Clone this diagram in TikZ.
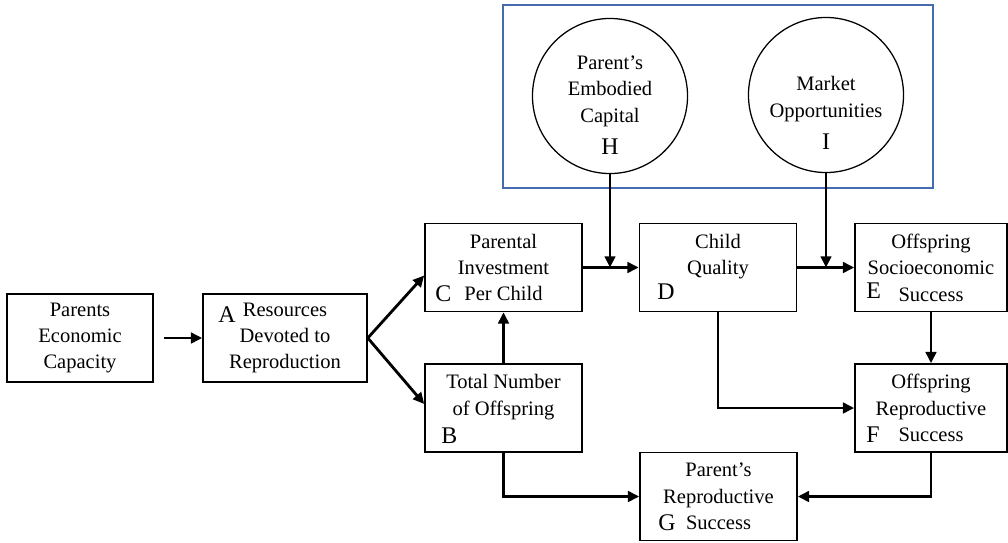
\documentclass[tikz,border=0pt]{standalone}
\usepackage{fontspec}
\setmainfont{Liberation Serif}
\usetikzlibrary{arrows.meta,calc}
\definecolor{frameblue}{RGB}{68,106,176}

\begin{document}
\begin{tikzpicture}[x=0.025cm,y=-0.025cm,
    box/.style={draw,line width=1.1pt,inner sep=0pt,minimum width=3.925cm,minimum height=2.2cm,
      align=center,font=\fontsize{14.6}{18.8}\selectfont},
    ring/.style={draw,circle,line width=0.9pt,minimum size=3.875cm,inner sep=0pt},
    txt/.style={align=center,inner sep=0pt,font=\fontsize{14.6}{18.8}\selectfont},
    tag/.style={anchor=base west,inner sep=0pt,font=\fontsize{17}{20}\selectfont},
    link/.style={line width=2pt,-{Triangle[length=8pt,width=7.5pt]}}]
    \useasboundingbox (0,0) rectangle (1008,542);
    % blue frame round the two circles
    \draw[frameblue,line width=0.9pt] (503,5) rectangle (933,188);
    \node[ring] (H) at (610,96) {};
    \node[ring] (I) at (826,95) {};
    \node[txt] (Ht) at (610,105) {Parent’s\\Embodied\\Capital\\[4pt]{\fontsize{17}{20}\selectfont H}};
    \node[txt] (It) at (826,113) {Market\\Opportunities\\[4pt]{\fontsize{17}{20}\selectfont I}};

    \node[box,minimum width=3.65cm] (P) at (80,338) {Parents\\Economic\\Capacity};
    \node[box,minimum width=4.1cm] (A) at (285,338) {Resources\\Devoted to\\Reproduction};
    \node[box] (C) at (503.5,267.5) {Parental\\Investment\\Per Child};
    \node[box] (B) at (503.5,408) {Total Number\\of Offspring\\\mbox{}};
    \node[box] (D) at (718,267.5) {Child\\Quality\\\mbox{}};
    \node[box,minimum width=3.8cm] (E) at (931,267.5) {Offspring\\Socioeconomic\\Success};
    \node[box,minimum width=3.8cm] (F) at (931,408) {Offspring\\Reproductive\\Success};
    \node[box] (G) at (718.5,496.5) {Parent’s\\Reproductive\\Success};

    % letters
    \node[tag] (la) at (218,322) {A};
    \node[tag] (lb) at (441,443) {B};
    \node[tag] (lc) at (435,301) {C};
    \node[tag] (ld) at (657,299) {D};
    \node[tag] (le) at (866,298) {E};
    \node[tag] (lf) at (866,442) {F};
    \node[tag] (lg) at (658,530) {G};

    \draw[link] ($(P.east)+(10,0)$) -- (A.west);
    \draw[link] (A.east) -- ($(C.west)+(0,8)$);
    \draw[link] (A.east) -- ($(B.west)+(0,-4)$);
    \draw[link] (B) -- (C);
    \draw[link] (C) -- (D);
    \draw[link] (H) -- (H |- C.east);
    \draw[link] (D) -- (E);
    \draw[link] (I) -- (I |- D.east);
    \draw[link] (E) -- (F);
    \draw[link] (D.south) |- (F.west);
    \draw[link] (B.south) |- (G.west);
    \draw[link] (F.south) |- (G.east);
\end{tikzpicture}
\end{document}
